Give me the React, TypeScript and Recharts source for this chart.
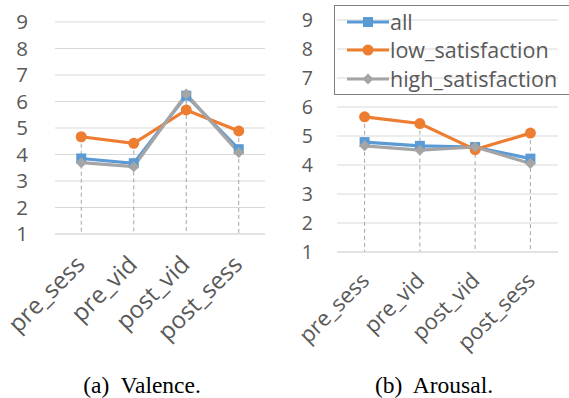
import React from 'react';
import { LineChart, Line, XAxis, YAxis, CartesianGrid, ReferenceLine } from 'recharts';

const categories = ['pre_sess', 'pre_vid', 'post_vid', 'post_sess'];
const yTicks = [1, 2, 3, 4, 5, 6, 7, 8, 9];

const valenceAll = [3.85, 3.67, 6.22, 4.2];
const valenceLow = [4.67, 4.42, 5.68, 4.89];
const valenceHigh = [3.69, 3.54, 6.28, 4.08];

const arousalAll = [4.79, 4.66, 4.62, 4.22];
const arousalLow = [5.66, 5.43, 4.53, 5.1];
const arousalHigh = [4.66, 4.51, 4.62, 4.05];

const seriesNames = ['all', 'low_satisfaction', 'high_satisfaction'];
const colors = ['#5B9BD5', '#ED7D31', '#A5A5A5'];

const build = (a: number[], l: number[], h: number[]) =>
  categories.map((c, i) => ({ cat: c, all: a[i], low: l[i], high: h[i], top: Math.max(a[i], l[i], h[i]) }));

const valenceData = build(valenceAll, valenceLow, valenceHigh);
const arousalData = build(arousalAll, arousalLow, arousalHigh);

const TEXT = '#595959';
const FONT = 'Open Sans';

const squareDot = (props: any) => (
  <rect key={`sq-${props.index}`} x={props.cx - 5} y={props.cy - 5} width={10} height={10} fill={colors[0]} />
);
const circleDot = (props: any) => (
  <circle key={`ci-${props.index}`} cx={props.cx} cy={props.cy} r={5.5} fill={colors[1]} />
);
const diamondDot = (props: any) => (
  <polygon
    key={`di-${props.index}`}
    points={`${props.cx},${props.cy - 5.5} ${props.cx + 5.5},${props.cy} ${props.cx},${props.cy + 5.5} ${props.cx - 5.5},${props.cy}`}
    fill={colors[2]}
  />
);

const makeXTick = (fontSize: number, dx: number, dy: number) => (props: any) => {
  const { x, y, payload } = props;
  return (
    <g transform={`translate(${x + dx},${y + dy})`}>
      <text transform="rotate(-45)" textAnchor="end" fill={TEXT} fontSize={fontSize} fontFamily={FONT}>
        {payload.value}
      </text>
    </g>
  );
};

type PanelProps = {
  data: any[];
  width: number;
  height: number;
  margin: any;
  yWidth: number;
  yFont: number;
  yMargin: number;
  xFont: number;
  xdx: number;
  xdy: number;
  pad: number;
};

const Panel = (p: PanelProps) => (
  <LineChart width={p.width} height={p.height} data={p.data} margin={p.margin}>
    <CartesianGrid vertical={false} stroke="#D9D9D9" strokeWidth={1} />
    <XAxis
      dataKey="cat"
      height={100}
      padding={{ left: p.pad, right: p.pad }}
      axisLine={{ stroke: '#D9D9D9' }}
      tickLine={false}
      tickSize={0}
      tickMargin={0}
      interval={0}
      tick={makeXTick(p.xFont, p.xdx, p.xdy)}
    />
    <YAxis
      domain={[1, 9]}
      ticks={yTicks}
      interval={0}
      width={p.yWidth}
      axisLine={false}
      tickLine={false}
      tickSize={0}
      tickMargin={p.yMargin}
      tick={{ fill: TEXT, fontSize: p.yFont, fontFamily: FONT }}
    />
    {p.data.map((d) => (
      <ReferenceLine
        key={`drop-${d.cat}`}
        segment={[{ x: d.cat, y: d.top }, { x: d.cat, y: 1 }]}
        stroke="#A6A6A6"
        strokeDasharray="4 3"
        strokeWidth={1}
      />
    ))}
    <Line dataKey="all" stroke={colors[0]} strokeWidth={3.2} dot={squareDot} isAnimationActive={false} />
    <Line dataKey="low" stroke={colors[1]} strokeWidth={3.2} dot={circleDot} isAnimationActive={false} />
    <Line dataKey="high" stroke={colors[2]} strokeWidth={3.2} dot={diamondDot} isAnimationActive={false} />
  </LineChart>
);

const LegendIcon = ({ i }: { i: number }) => (
  <svg width={42} height={14} style={{ display: 'block' }}>
    <line x1={0} y1={7} x2={42} y2={7} stroke={colors[i]} strokeWidth={3.2} />
    {i === 0 && <rect x={16} y={2} width={10} height={10} fill={colors[0]} />}
    {i === 1 && <circle cx={21} cy={7} r={5.5} fill={colors[1]} />}
    {i === 2 && <polygon points="21,1.5 26.5,7 21,12.5 15.5,7" fill={colors[2]} />}
  </svg>
);

const captionStyle: React.CSSProperties = {
  position: 'absolute',
  top: 373,
  width: 220,
  textAlign: 'center',
  fontFamily: 'Liberation Serif',
  fontSize: 23.5,
  lineHeight: '24px',
  color: '#000',
  whiteSpace: 'pre',
};

export default function App() {
  return (
    <div style={{ position: 'absolute', left: 0, top: 0, width: 569, height: 398, background: '#fff', overflow: 'hidden' }}>
      <div style={{ position: 'absolute', left: 0, top: 0 }}>
        <Panel
          data={valenceData}
          width={290}
          height={398}
          margin={{ top: 22, right: 25, left: 10, bottom: 64 }}
          yWidth={45}
          yFont={20.5}
          yMargin={27}
          xFont={24}
          xdx={5}
          xdy={32}
          pad={26.25}
        />
      </div>
      <div style={{ position: 'absolute', left: 290, top: 0 }}>
        <Panel
          data={arousalData}
          width={279}
          height={398}
          margin={{ top: 20, right: 11, left: 7, bottom: 46 }}
          yWidth={40}
          yFont={19.5}
          yMargin={24}
          xFont={22}
          xdx={6}
          xdy={30}
          pad={27.6}
        />
      </div>
      <div
        style={{
          position: 'absolute',
          left: 334,
          top: 5,
          width: 250,
          height: 88,
          border: '1px solid #7F7F7F',
          fontFamily: FONT,
          fontSize: 21.5,
          color: TEXT,
        }}
      >
        {seriesNames.map((n, i) => (
          <div
            key={n}
            style={{ position: 'absolute', left: 12, top: 2 + i * 28.3, height: 28, display: 'flex', alignItems: 'center' }}
          >
            <LegendIcon i={i} />
            <span style={{ marginLeft: 1, lineHeight: '28px' }}>{n}</span>
          </div>
        ))}
      </div>
      <div style={{ ...captionStyle, left: 32 }}>{'(a)  Valence.'}</div>
      <div style={{ ...captionStyle, left: 324 }}>{'(b)  Arousal.'}</div>
    </div>
  );
}
